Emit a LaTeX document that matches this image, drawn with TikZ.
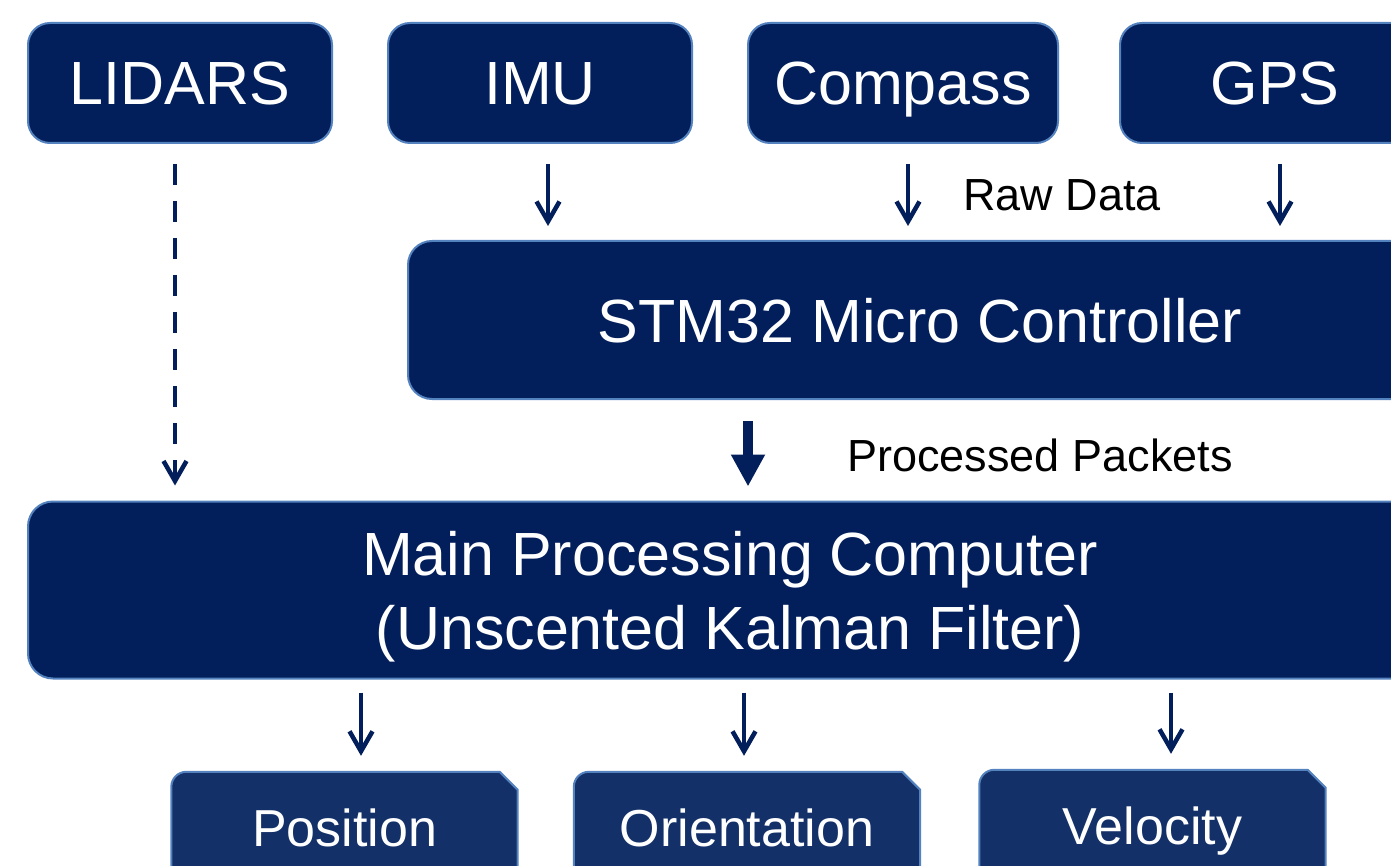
\documentclass[tikz,border=0pt]{standalone}
\usepackage{fontspec}
\setmainfont{Liberation Sans}
\usetikzlibrary{arrows.meta,positioning,backgrounds}

\definecolor{navy}{RGB}{3,31,91}
\definecolor{navyout}{RGB}{20,48,104}
\definecolor{edge}{RGB}{84,130,190}

\begin{document}
\begin{tikzpicture}[x=1pt, y=-1pt, >=Stealth,
	   box/.style={draw=edge, line width=2pt, fill=navy, rounded corners=22pt, text=white, align=center, text depth=0pt, font=\fontsize{61}{74}\selectfont},
	   sensor/.style={box, minimum width=304pt, minimum height=120pt, text height=44pt},
	   outbox/.style={text=white, minimum width=346pt, minimum height=112pt, text height=37pt, text depth=0pt, font=\fontsize{52}{62}\selectfont},
	   lbl/.style={font=\fontsize{45}{54}\selectfont},
	   sig/.style={line width=4.5pt, draw=navy, -{Straight Barb[length=20pt,width=23pt]}},
	   fat/.style={line width=10pt, draw=navy, -{Triangle[length=32pt,width=32pt]}}]
	  \useasboundingbox (0,0) rectangle (1391,866);
	  \clip (0,0) rectangle (1391,866);
	  % sensors
	  \node[sensor] (lidar) at (180,83) {LIDARS};
	  \node[sensor, right=54pt of lidar] (imu) {IMU};
	  \node[sensor, minimum width=310pt, right=54pt of imu] (compass) {Compass};
	  \node[sensor, minimum width=310pt, right=60pt of compass] (gps) {GPS};
	  % processing
	  \node[box, minimum width=1024pt, minimum height=158pt, rounded corners=24pt] (stm) at (920,320) {STM32 Micro Controller};
	  \node[box, minimum width=1404pt, minimum height=177pt, rounded corners=25pt] (main) at (730,590) {Main Processing Computer\\(Unscented Kalman Filter)};
	  % outputs
	  \node[outbox] (pos) at (344.5,828) {Position};
	  \node[outbox] (ori) at (747,828) {Orientation};
	  \node[outbox] (vel) at (1152.5,826) {Velocity};
	  \begin{scope}[on background layer]
	    \foreach \n in {pos,ori,vel}
	      \filldraw[draw=edge, line width=2pt, fill=navyout] (\n.south west) [rounded corners=15pt] -- (\n.north west) [sharp corners] -- ([xshift=-18pt]\n.north east) -- ([yshift=-18pt]\n.north east) -- (\n.south east) -- cycle;
	  \end{scope}
	  % labels
	  \node[lbl] (raw) at (1062,195) {Raw Data};
	  \node[lbl] (pkt) at (1040,455) {Processed Packets};
	  % arrows
	  \foreach \n/\dx in {imu/8, compass/5, gps/5}
	    \draw[sig, shorten <=20pt, shorten >=14pt] ([xshift=\dx pt]\n.south) -- ([xshift=\dx pt]\n.south |- stm.north);
	  \draw[sig, dash pattern=on 21pt off 16pt, shorten <=20pt, shorten >=15pt] ([xshift=-5pt]lidar.south) -- ([xshift=-5pt]lidar.south |- main.north);
	  \draw[fat, shorten <=21pt, shorten >=14pt] ([xshift=18pt]main.north |- stm.south) -- ([xshift=18pt]main.north);
	  \foreach \n/\dx in {pos/16.5, ori/-3, vel/18.5}
	    \draw[sig, shorten <=13pt, shorten >=16pt] ([xshift=\dx pt]\n.north |- main.south) -- ([xshift=\dx pt]\n.north);
	\end{tikzpicture}
\end{document}
